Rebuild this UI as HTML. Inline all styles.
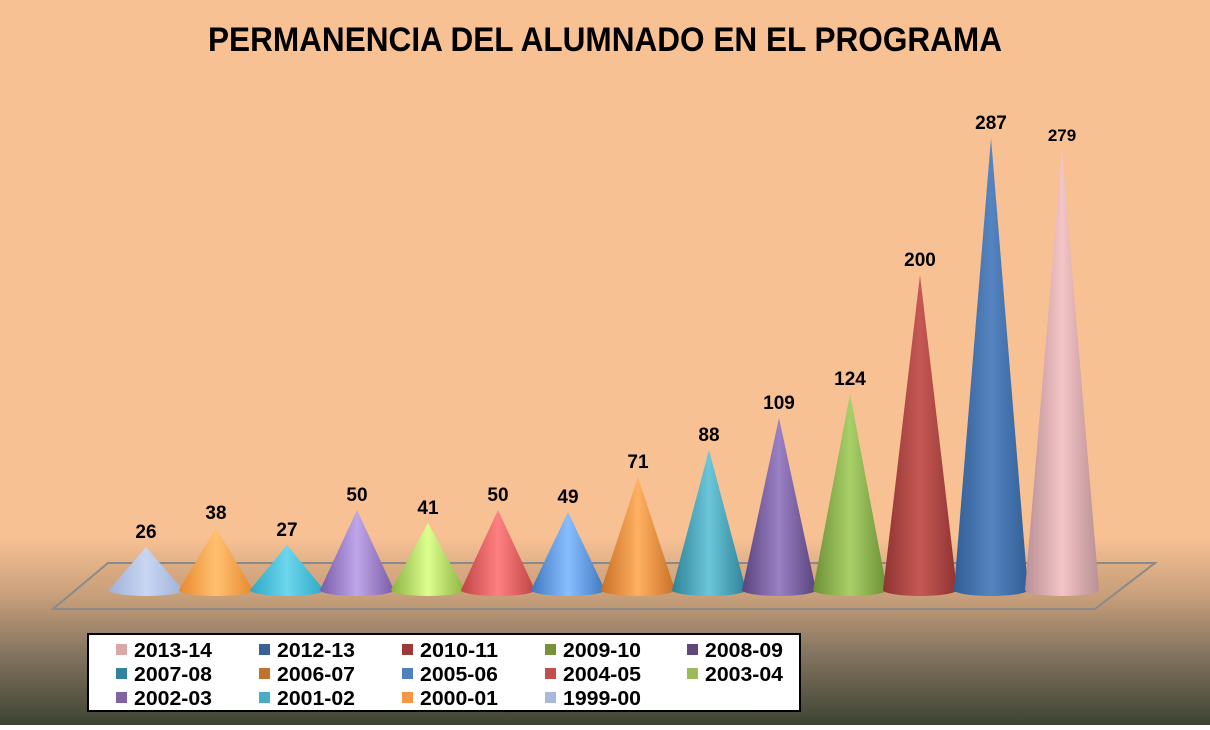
<!DOCTYPE html>
<html><head><meta charset="utf-8"><style>
html,body{margin:0;padding:0;}
body{width:1210px;height:725px;overflow:hidden;}
</style></head><body>
<svg width="1210" height="725" xmlns="http://www.w3.org/2000/svg" font-family="'Liberation Sans Narrow','Liberation Sans',sans-serif" font-weight="bold">
<defs>
<linearGradient id="bg" x1="0" y1="0" x2="0" y2="1">
<stop offset="0" stop-color="#F8C194"/>
<stop offset="0.74" stop-color="#F8C194"/>
<stop offset="0.82" stop-color="#C9A07C"/>
<stop offset="0.9" stop-color="#857560"/>
<stop offset="1" stop-color="#3C4332"/>
</linearGradient>
</defs>
<rect width="1210" height="725" fill="url(#bg)"/>
<text x="605" y="51" text-anchor="middle" font-size="34" textLength="794" lengthAdjust="spacingAndGlyphs" fill="#000">PERMANENCIA DEL ALUMNADO EN EL PROGRAMA</text>
<polygon points="108,563 1155,563 1095,609 53,609" fill="rgba(200,160,120,0.25)" stroke="#8A8A8A" stroke-width="2"/>
<g id="cones"></g>
<rect x="88" y="634" width="712" height="77" fill="#fff" stroke="#000" stroke-width="2"/>
<g id="leg" font-size="20"></g>
</svg>
<script>
var data=[[146,547,26,"#9FB2D8","#C8D6F2","1999-00"],[216,528,38,"#E8892E","#FFC070","2000-01"],[287,545,27,"#2FA8C4","#6CD6EE","2001-02"],[357,510,50,"#7A5CA8","#BFA6EA","2002-03"],[428,523,41,"#8CB240","#DDFF90","2003-04"],[498,510,50,"#C04444","#FF8080","2004-05"],[568,512,49,"#3F78C0","#88BFFF","2005-06"],[638,477,71,"#C87028","#FFB060","2006-07"],[709,450,88,"#2E8296","#6CC6DA","2007-08"],[779,418,109,"#5A437E","#9A80C4","2008-09"],[850,394,124,"#6C9035","#A8D068","2009-10"],[920,275,200,"#8E3432","#C65854","2010-11"],[991,138,287,"#325E96","#5584C0","2012-13"],[1062,150,279,"#B89094","#F4C4C6","2013-14"]];
var ns="http://www.w3.org/2000/svg",g=document.getElementById("cones"),defs=document.querySelector("defs");
data.forEach(function(d,i){
 var lg=document.createElementNS(ns,"linearGradient");lg.setAttribute("id","c"+i);lg.setAttribute("x1","0");lg.setAttribute("x2","1");lg.setAttribute("y1","0");lg.setAttribute("y2","0");
 lg.innerHTML='<stop offset="0" stop-color="'+d[3]+'"/><stop offset="0.5" stop-color="'+d[4]+'"/><stop offset="1" stop-color="'+d[3]+'"/>';defs.appendChild(lg);
 var x=d[0],t=d[1],b=590,w=37;
 var p=document.createElementNS(ns,"path");
 p.setAttribute("d","M"+(x-w)+","+b+" L"+x+","+t+" L"+(x+w)+","+b+" A"+w+",6 0 0 1 "+(x-w)+","+b+" Z");
 p.setAttribute("fill","url(#c"+i+")");g.appendChild(p);
 var tx=document.createElementNS(ns,"text");tx.setAttribute("x",x);tx.setAttribute("y",t-9);tx.setAttribute("text-anchor","middle");tx.setAttribute("font-size",i==13?"17":"19");tx.textContent=d[2];g.appendChild(tx);
});
var leg=[["#D9A9A9","2013-14"],["#3B6096","2012-13"],["#9B3A38","2010-11"],["#76933C","2009-10"],["#60497A","2008-09"],["#31849B","2007-08"],["#C0722E","2006-07"],["#4F81BD","2005-06"],["#C0504D","2004-05"],["#9BBB59","2003-04"],["#8064A2","2002-03"],["#4BACC6","2001-02"],["#F79646","2000-01"],["#AAB9D9","1999-00"]];
var lgg=document.getElementById("leg"),cols=[116,259,402,545,687];
leg.forEach(function(l,i){var c=i%5,r=Math.floor(i/5),y=650+r*24;
 var rc=document.createElementNS(ns,"rect");rc.setAttribute("x",cols[c]);rc.setAttribute("y",y-6);rc.setAttribute("width",11);rc.setAttribute("height",11);rc.setAttribute("fill",l[0]);lgg.appendChild(rc);
 var t=document.createElementNS(ns,"text");t.setAttribute("x",cols[c]+18);t.setAttribute("y",y+7);t.setAttribute("textLength","78");t.setAttribute("lengthAdjust","spacingAndGlyphs");t.textContent=l[1];lgg.appendChild(t);});
</script>
</body></html>
